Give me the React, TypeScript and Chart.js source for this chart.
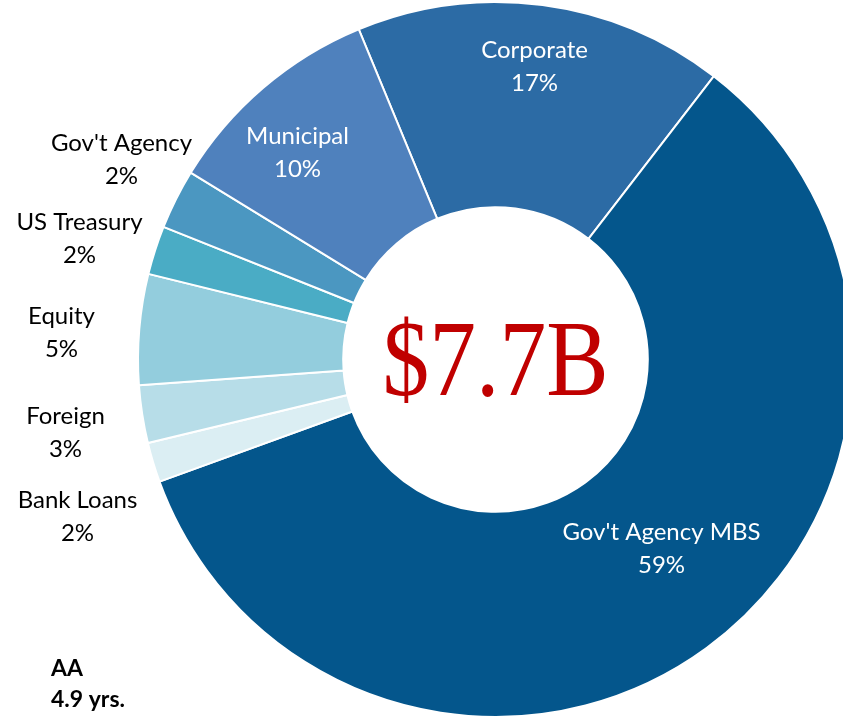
import React, { useEffect, useRef } from 'react';
import { Chart, registerables } from 'chart.js';

Chart.register(...registerables);

const LABELS = ['Corporate', "Gov't Agency MBS", 'Bank Loans', 'Foreign', 'Equity', 'US Treasury', "Gov't Agency", 'Municipal'];
const VALUES = [16.7, 59.0, 1.8, 2.6, 5.0, 2.2, 2.7, 10.0];
const PCT_LABELS = ['17%', '59%', '2%', '3%', '5%', '2%', '2%', '10%'];
const COLORS = ['#2C6BA5', '#04568C', '#DBEEF3', '#B7DDE8', '#93CDDD', '#4AACC5', '#4B97C1', '#4F81BD'];
const START_ANGLE = -22.5;
const TOTAL_TEXT = '$7.7B';
const NOTE_LINES = ['AA', '4.9 yrs.'];

// label anchor offsets relative to chart centre (line 1 centre), and text colour
const LABEL_LAYOUT = [
  { dx: 39, dy: -309, color: '#FFFFFF' },
  { dx: 166, dy: 173, color: '#FFFFFF' },
  { dx: -418, dy: 141, color: '#000000' },
  { dx: -430, dy: 57, color: '#000000' },
  { dx: -434, dy: -43, color: '#000000' },
  { dx: -416, dy: -137, color: '#000000' },
  { dx: -374, dy: -216, color: '#000000' },
  { dx: -198, dy: -223, color: '#FFFFFF' },
];

const FONT = 'Lato, "Open Sans", "Noto Sans", sans-serif';

const labelPlugin = {
  id: 'customLabels',
  afterDraw(chart: any) {
    const ctx = chart.ctx;
    const meta = chart.getDatasetMeta(0);
    const arc = meta.data[0];
    const cx = arc.x;
    const cy = arc.y;
    ctx.save();
    ctx.textAlign = 'center';
    ctx.textBaseline = 'middle';
    ctx.font = `24px ${FONT}`;
    LABELS.forEach((lab, i) => {
      const L = LABEL_LAYOUT[i];
      ctx.fillStyle = L.color;
      ctx.fillText(lab, cx + L.dx, cy + L.dy);
      ctx.fillText(PCT_LABELS[i], cx + L.dx, cy + L.dy + 33);
    });
    // centre total
    ctx.font = '107px "Liberation Serif", "Times New Roman", serif';
    const w = ctx.measureText(TOTAL_TEXT).width;
    const targetW = 226;
    ctx.save();
    ctx.translate(cx, cy);
    ctx.scale(targetW / w, 1);
    ctx.fillStyle = '#C00000';
    ctx.textBaseline = 'alphabetic';
    ctx.fillText(TOTAL_TEXT, 0, 35);
    ctx.restore();
    // note
    ctx.font = `bold 23px ${FONT}`;
    ctx.fillStyle = '#000000';
    ctx.textAlign = 'left';
    ctx.textBaseline = 'middle';
    NOTE_LINES.forEach((t, i) => {
      ctx.fillText(t, 51, 669 + i * 31);
    });
    ctx.restore();
  },
};

export default function App() {
  const ref = useRef<HTMLCanvasElement>(null);
  useEffect(() => {
    if (!ref.current) return;
    const chart = new Chart(ref.current, {
      type: 'doughnut',
      data: {
        labels: LABELS,
        datasets: [
          {
            data: VALUES,
            backgroundColor: COLORS,
            borderColor: '#FFFFFF',
            borderWidth: 2,
          },
        ],
      },
      options: {
        responsive: false,
        animation: false,
        rotation: START_ANGLE,
        cutout: '42.6%',
        layout: { padding: { left: 137, top: 1, right: 46, bottom: 1 } },
        plugins: {
          legend: { display: false },
          tooltip: { enabled: false },
        },
      },
      plugins: [labelPlugin],
    });
    return () => chart.destroy();
  }, []);
  return (
    <div style={{ position: 'fixed', left: 0, top: 0, width: 843, height: 719, overflow: 'hidden', background: '#fff' }}>
      <canvas ref={ref} width={900} height={719} style={{ width: 900, height: 719, display: 'block' }} />
    </div>
  );
}
